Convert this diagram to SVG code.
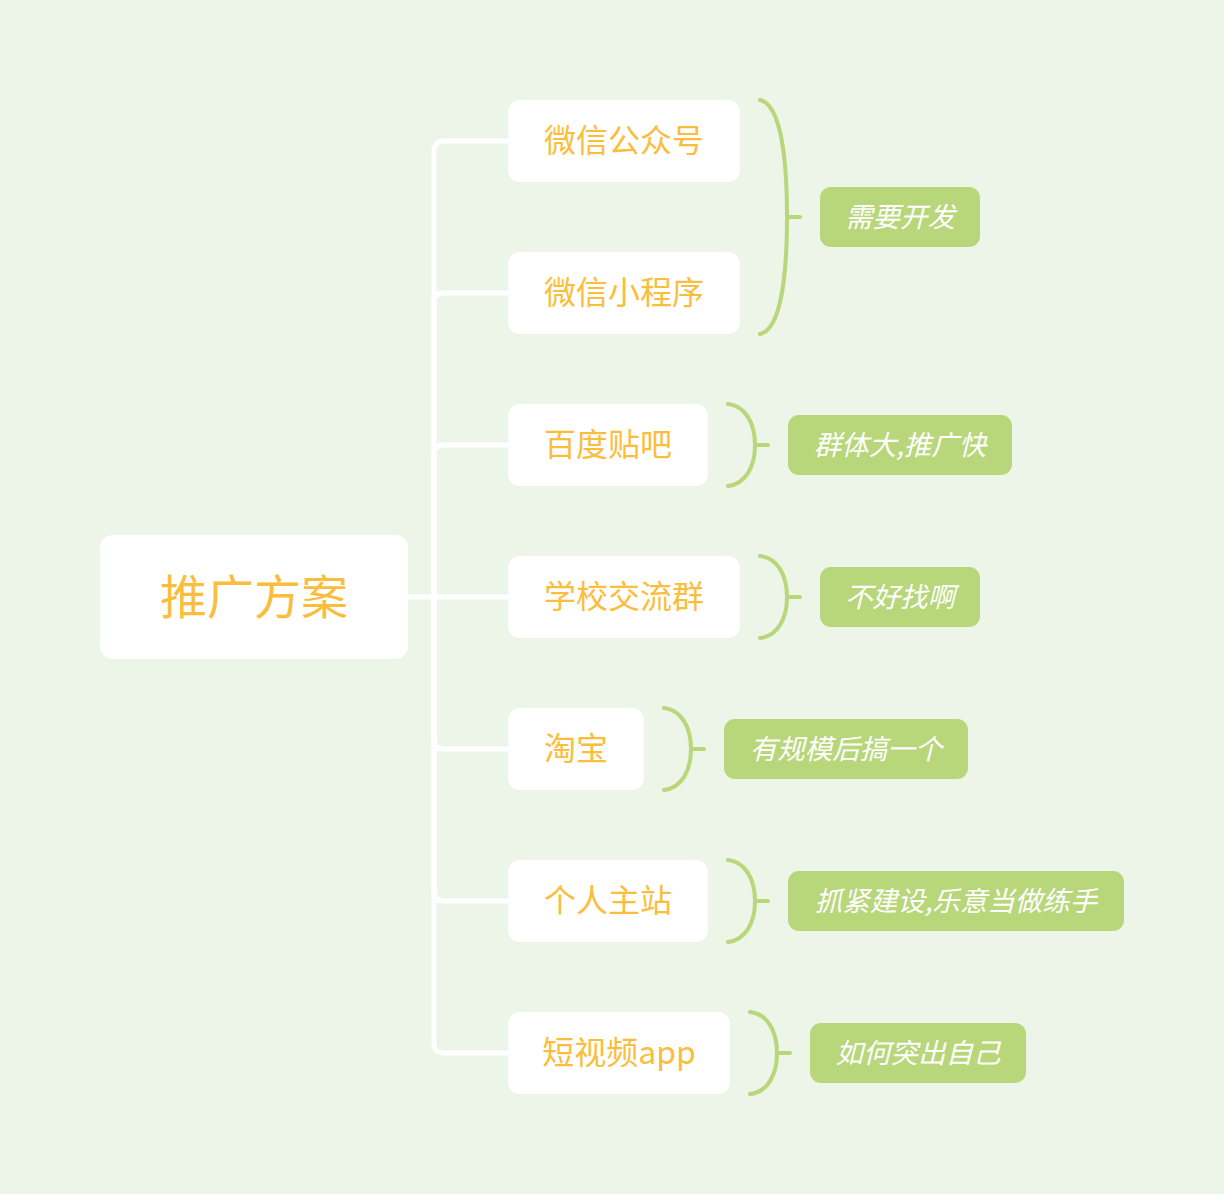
<svg xmlns="http://www.w3.org/2000/svg" width="1224" height="1194" viewBox="0 0 1224 1194">
<style>
.bg{fill:#EDF5E8}
.node rect{fill:#FFFFFF}
.node text{fill:#FBBD3C;font-family:"Noto Sans CJK SC","Noto Sans",sans-serif;text-anchor:middle;dominant-baseline:central}
.lbl rect{fill:#B8D67A}
.lbl text{fill:#FFFFFF;font-family:"Noto Sans CJK SC","Noto Sans",sans-serif;font-style:italic;font-size:27.5px;text-anchor:middle;dominant-baseline:central}
.conn path{fill:none;stroke:#FFFFFF;stroke-width:5}
.brace path{fill:none;stroke:#B8D67A;stroke-width:4;stroke-linecap:round}
</style>
<rect class="bg" x="0" y="0" width="1224" height="1194"/>
<g id="connectors" class="conn">
<path d="M408,597 H434"/>
<path d="M434,597 V151 Q434,141 444,141 H508"/>
<path d="M434,597 V303 Q434,293 444,293 H508"/>
<path d="M434,597 V455 Q434,445 444,445 H508"/>
<path d="M434,597 H508"/>
<path d="M434,597 V739 Q434,749 444,749 H508"/>
<path d="M434,597 V891 Q434,901 444,901 H508"/>
<path d="M434,597 V1043 Q434,1053 444,1053 H508"/>
</g>
<g id="braces" class="brace">
<path d="M760,100 C779,104 787,150 787,217 C787,284 779,330 760,334 M787,217 H800"/>
<path d="M728,404 C746,406 755,424 755,445 C755,466 746,484 728,486 M755,445 H768"/>
<path d="M760,556 C778,558 787,576 787,597 C787,618 778,636 760,638 M787,597 H800"/>
<path d="M664,708 C682,710 691,728 691,749 C691,770 682,788 664,790 M691,749 H704"/>
<path d="M728,860 C746,862 755,880 755,901 C755,922 746,940 728,942 M755,901 H768"/>
<path d="M750,1012 C768,1014 777,1032 777,1053 C777,1074 768,1092 750,1094 M777,1053 H790"/>
</g>
<g id="root" class="node"><rect x="100" y="535" width="308" height="124" rx="13"/><text x="254" y="593" font-size="47">推广方案</text></g>
<g id="n1" class="node"><rect x="508" y="100" width="232" height="82" rx="12"/><text x="624" y="138" font-size="32">微信公众号</text></g>
<g id="n2" class="node"><rect x="508" y="252" width="232" height="82" rx="12"/><text x="624" y="290" font-size="32">微信小程序</text></g>
<g id="n3" class="node"><rect x="508" y="404" width="200" height="82" rx="12"/><text x="608" y="442" font-size="32">百度贴吧</text></g>
<g id="n4" class="node"><rect x="508" y="556" width="232" height="82" rx="12"/><text x="624" y="594" font-size="32">学校交流群</text></g>
<g id="n5" class="node"><rect x="508" y="708" width="136" height="82" rx="12"/><text x="576" y="746" font-size="32">淘宝</text></g>
<g id="n6" class="node"><rect x="508" y="860" width="200" height="82" rx="12"/><text x="608" y="898" font-size="32">个人主站</text></g>
<g id="n7" class="node"><rect x="508" y="1012" width="222" height="82" rx="12"/><text x="619" y="1050" font-size="32">短视频app</text></g>
<g id="l1" class="lbl"><rect x="820" y="187" width="160" height="60" rx="11"/><text x="900" y="215">需要开发</text></g>
<g id="l2" class="lbl"><rect x="788" y="415" width="224" height="60" rx="11"/><text x="900" y="443">群体大,推广快</text></g>
<g id="l3" class="lbl"><rect x="820" y="567" width="160" height="60" rx="11"/><text x="900" y="595">不好找啊</text></g>
<g id="l4" class="lbl"><rect x="724" y="719" width="244" height="60" rx="11"/><text x="846" y="747">有规模后搞一个</text></g>
<g id="l5" class="lbl"><rect x="788" y="871" width="336" height="60" rx="11"/><text x="956" y="899">抓紧建设,乐意当做练手</text></g>
<g id="l6" class="lbl"><rect x="810" y="1023" width="216" height="60" rx="11"/><text x="918" y="1051">如何突出自己</text></g>
</svg>
